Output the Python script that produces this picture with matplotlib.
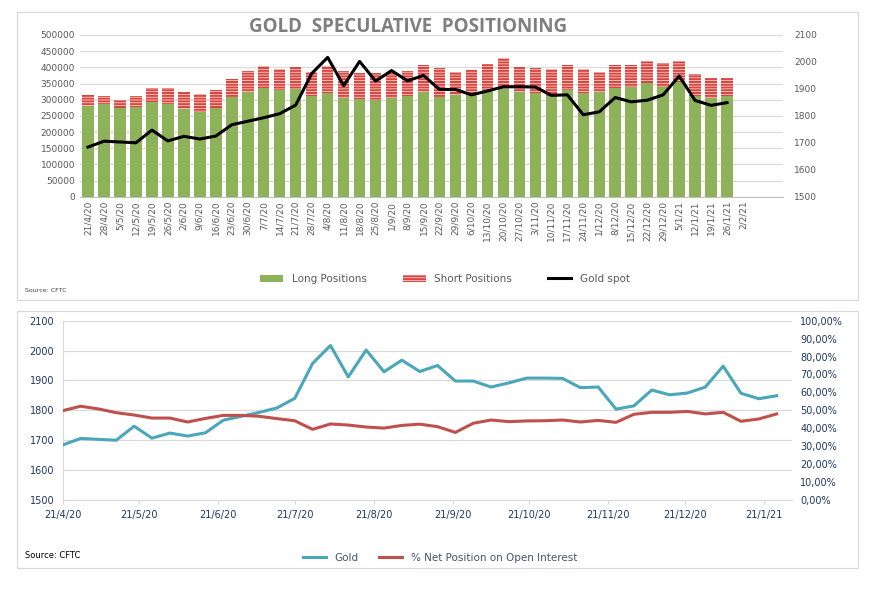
import pandas as pd
import matplotlib.pyplot as plt
import matplotlib.dates as mdates
from matplotlib.patches import Rectangle, Patch
from matplotlib.lines import Line2D
from matplotlib.ticker import FuncFormatter

# weekly CFTC report dates (last one has no data yet)
weeks = ['21/4/20', '28/4/20', '5/5/20', '12/5/20', '19/5/20', '26/5/20', '2/6/20',
         '9/6/20', '16/6/20', '23/6/20', '30/6/20', '7/7/20', '14/7/20', '21/7/20',
         '28/7/20', '4/8/20', '11/8/20', '18/8/20', '25/8/20', '1/9/20', '8/9/20',
         '15/9/20', '22/9/20', '29/9/20', '6/10/20', '13/10/20', '20/10/20', '27/10/20',
         '3/11/20', '10/11/20', '17/11/20', '24/11/20', '1/12/20', '8/12/20', '15/12/20',
         '22/12/20', '29/12/20', '5/1/21', '12/1/21', '19/1/21', '26/1/21', '2/2/21']

long_pos = [280000, 287000, 275000, 278000, 293000, 288000, 270000, 263000, 274000, 309000,
            324000, 336000, 330000, 333000, 311000, 320000, 305000, 301000, 299000, 305000,
            311000, 325000, 307000, 314000, 322000, 330000, 334000, 324000, 320000, 311000,
            330000, 320000, 325000, 337000, 340000, 351000, 340000, 354000, 311000, 305000,
            312000]
total_oi = [314000, 311000, 299000, 311000, 336000, 336000, 325000, 318000, 330000, 364000,
            389000, 404000, 395000, 401000, 386000, 404000, 389000, 383000, 383000, 386000,
            389000, 407000, 397000, 385000, 392000, 410000, 428000, 402000, 399000, 395000,
            407000, 395000, 385000, 407000, 407000, 420000, 414000, 420000, 379000, 367000,
            367000]
short_pos = [t - l for t, l in zip(total_oi, long_pos)]

gold = [1684, 1706, 1703, 1700, 1747, 1707, 1724, 1714, 1725, 1767,
        1780, 1793, 1808, 1840, 1957, 2017, 1912, 2002, 1929, 1968,
        1930, 1950, 1898, 1898, 1878, 1892, 1908, 1908, 1907, 1876,
        1878, 1804, 1815, 1868, 1852, 1858, 1878, 1948, 1857, 1839,
        1849]

net_pct = [49.8, 52.3, 50.8, 48.7, 47.4, 45.7, 45.7, 43.5, 45.5, 47.2,
           47.2, 46.7, 45.4, 44.2, 39.4, 42.4, 41.8, 40.7, 40.1, 41.6,
           42.3, 40.9, 37.7, 42.8, 44.6, 43.7, 44.1, 44.2, 44.6, 43.5,
           44.4, 43.3, 47.8, 48.9, 48.9, 49.4, 48.0, 48.9, 43.9, 45.2,
           48.0]

green = '#8db25a'
red = '#d9453f'
teal = '#4aa6b9'
dark_red = '#c0504d'
grey_txt = '#595959'
navy = '#1f3864'

fig = plt.figure(figsize=(8.79, 5.95), dpi=100)

# panel frames
for y0, y1 in [(12, 300), (311, 568)]:
    fig.patches.append(Rectangle((17 / 879, 1 - y1 / 595), 841 / 879, (y1 - y0) / 595,
                                 transform=fig.transFigure, fill=False,
                                 edgecolor='#d9d9d9', linewidth=0.8))

# ---------- top chart ----------
ax = fig.add_axes([80 / 879, 1 - 196.7 / 595, 703 / 879, 161.7 / 595])
n = len(long_pos)
x = list(range(n))
ax.bar(x, long_pos, width=0.72, color=green, linewidth=0, zorder=2)
plt.rcParams['hatch.linewidth'] = 1.5
ax.bar(x, short_pos, bottom=long_pos, width=0.72, color='#fbeaea', edgecolor=red,
       hatch='------', linewidth=0, zorder=2)
ax.set_xlim(-0.5, 43.5)
ax.set_ylim(0, 500000)
ax.set_yticks(range(0, 500001, 50000))
ax.set_xticks(range(len(weeks)))
ax.set_xticklabels(weeks, rotation=90, fontsize=6.5, color=grey_txt)
ax.tick_params(axis='y', labelsize=6.5, colors=grey_txt, length=0)
ax.tick_params(axis='x', length=0, pad=3)
ax.grid(axis='y', color='#d9d9d9', linewidth=0.8, zorder=0)
for s in ['top', 'right', 'left']:
    ax.spines[s].set_visible(False)
ax.spines['bottom'].set_color('#bfbfbf')

ax2 = ax.twinx()
ax2.plot(x, gold, color='black', linewidth=2.2, zorder=3)
ax2.set_ylim(1500, 2100)
ax2.set_yticks(range(1500, 2101, 100))
ax2.tick_params(axis='y', labelsize=6.5, colors=grey_txt, length=0, pad=8)
for s in ['top', 'right', 'left', 'bottom']:
    ax2.spines[s].set_visible(False)

fig.text(408 / 879, 1 - 27 / 595, 'GOLD  SPECULATIVE  POSITIONING',
         ha='center', va='center', fontsize=13.5, fontweight='bold', color='#7f7f7f',
         family='Open Sans')

handles = [Patch(facecolor=green, edgecolor='none'),
           Patch(facecolor='#fbeaea', edgecolor=red, hatch='------', linewidth=0),
           Line2D([0], [0], color='black', linewidth=2.2)]
fig.legend(handles, ['Long Positions', 'Short Positions', 'Gold spot'], loc='center',
           bbox_to_anchor=(445 / 879, 1 - 279 / 595), ncol=3, frameon=False,
           fontsize=7.5, labelcolor=grey_txt, handlelength=2.2, columnspacing=3.5)
fig.text(25 / 879, 1 - 291 / 595, 'Source: CFTC', fontsize=4.5, color='#404040',
         va='center')

# ---------- bottom chart ----------
dates = pd.to_datetime(weeks[:n], format='%d/%m/%y')
start = pd.Timestamp('2020-04-21')
bx = fig.add_axes([62.7 / 879, 1 - 500 / 595, (792 - 62.7) / 879, 179.3 / 595])
bx.plot(dates, gold, color=teal, linewidth=2.2, zorder=3)
bx.set_ylim(1500, 2100)
bx.set_yticks(range(1500, 2101, 100))
bx.set_xlim(start, start + pd.Timedelta(days=286))
month_ticks = pd.date_range('2020-04-01', '2021-01-21', freq='MS') + pd.Timedelta(days=20)
bx.set_xticks(month_ticks)
bx.xaxis.set_major_formatter(FuncFormatter(
    lambda v, p: '{d.day}/{d.month}/{y}'.format(d=mdates.num2date(v), y=mdates.num2date(v).strftime('%y'))))
bx.tick_params(axis='x', labelsize=7, colors=navy, length=3, color='#d9d9d9', pad=4)
bx.tick_params(axis='y', labelsize=7, colors=navy, length=0, pad=6)
bx.grid(axis='y', color='#d9d9d9', linewidth=0.8, zorder=0)
for s in ['top', 'right']:
    bx.spines[s].set_visible(False)
bx.spines['left'].set_color('#d9d9d9')
bx.spines['bottom'].set_color('#d9d9d9')

bx2 = bx.twinx()
bx2.plot(dates, net_pct, color=dark_red, linewidth=2.2, zorder=3)
bx2.set_ylim(0, 100)
bx2.set_yticks(range(0, 101, 10))
bx2.yaxis.set_major_formatter(FuncFormatter(lambda v, p: '{:.2f}%'.format(v).replace('.', ',')))
bx2.tick_params(axis='y', labelsize=7, colors=navy, length=0, pad=6)
for s in ['top', 'right', 'left', 'bottom']:
    bx2.spines[s].set_visible(False)

lh = [Line2D([0], [0], color=teal, linewidth=2.2),
      Line2D([0], [0], color=dark_red, linewidth=2.2)]
fig.legend(lh, ['Gold', '% Net Position on Open Interest'], loc='center',
           bbox_to_anchor=(440 / 879, 1 - 558 / 595), ncol=2, frameon=False,
           fontsize=7.5, labelcolor='#44546a', handlelength=2.2, columnspacing=2)
fig.text(25 / 879, 1 - 556 / 595, 'Source: CFTC', fontsize=6, color='black', va='center')

fig.savefig('out.png', dpi=100)
